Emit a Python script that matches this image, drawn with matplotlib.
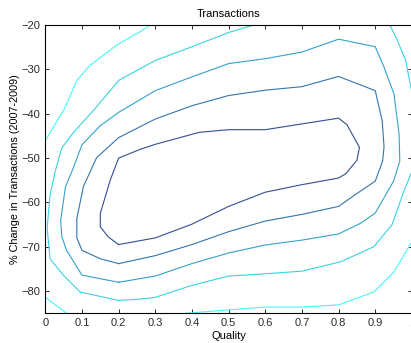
import matplotlib
matplotlib.use("Agg")
import matplotlib.pyplot as plt

plt.rcParams['font.family'] = ['Liberation Sans', 'DejaVu Sans']

# contour levels, traced as (quality, % change) vertices, inner to outer
c1_x = [0.2, 0.3, 0.4, 0.5, 0.6, 0.7, 0.8, 0.82, 0.85, 0.857, 0.823, 0.8, 0.7, 0.6, 0.5, 0.42, 0.3, 0.26, 0.2, 0.177, 0.15, 0.15, 0.172, 0.2]
c1_y = [-69.5, -68.0, -64.9, -60.9, -57.7, -56.0, -54.5, -53.5, -50.5, -47.6, -42.5, -41.0, -42.3, -43.6, -43.6, -44.2, -46.9, -48.0, -50.0, -55.0, -62.5, -65.5, -67.8, -69.5]

c2_x = [0.2, 0.3, 0.4, 0.5, 0.6, 0.7, 0.8, 0.85, 0.9, 0.92, 0.924, 0.919, 0.9, 0.8, 0.7, 0.6, 0.5, 0.4, 0.3, 0.2, 0.14, 0.104, 0.086, 0.086, 0.1, 0.15, 0.2]
c2_y = [-73.8, -72.0, -69.5, -66.6, -64.2, -62.7, -60.9, -58.0, -55.2, -50.7, -47.5, -41.6, -34.8, -31.6, -33.9, -34.7, -35.9, -38.2, -41.2, -45.4, -49.9, -56.4, -63.6, -68.0, -70.8, -72.7, -73.8]

c3_x = [0.2, 0.3, 0.4, 0.5, 0.6, 0.7, 0.8, 0.86, 0.9, 0.95, 0.967, 0.965, 0.951, 0.924, 0.9, 0.8, 0.7, 0.6, 0.5, 0.4, 0.3, 0.2, 0.15, 0.1, 0.075, 0.055, 0.042, 0.045, 0.058, 0.1, 0.15, 0.2]
c3_y = [-78.0, -76.6, -73.8, -71.4, -69.6, -68.5, -67.1, -64.7, -62.4, -55.2, -50.7, -44.6, -35.5, -29.5, -24.9, -23.2, -26.1, -27.6, -28.7, -31.7, -34.8, -39.7, -42.7, -47.0, -52.5, -56.5, -64.0, -67.7, -70.8, -76.4, -77.2, -78.0]

c4a_x = [0.568, 0.5, 0.4, 0.3, 0.2, 0.177, 0.131, 0.077, 0.045, 0.027, 0.013, 0.005, 0.013, 0.049, 0.095, 0.2, 0.259, 0.3, 0.4, 0.5, 0.6, 0.7, 0.805, 0.896, 0.946, 0.978, 1.0]
c4a_y = [-20.0, -21.7, -24.9, -28.0, -32.5, -34.8, -39.3, -44.2, -47.7, -53.0, -58.3, -65.8, -72.7, -76.4, -80.2, -82.1, -81.8, -81.4, -78.7, -76.6, -76.1, -75.5, -73.4, -70.0, -65.0, -57.5, -53.0]
c4b_x = [0.94, 0.96, 0.983, 1.0]
c4b_y = [-20.0, -23.4, -28.0, -35.2]

c5a_x = [0.0, 0.054, 0.086, 0.122, 0.195, 0.259, 0.286]
c5a_y = [-46.1, -38.6, -32.5, -29.1, -24.5, -21.5, -20.0]
c5b_x = [0.0, 0.058]
c5b_y = [-81.4, -85.0]
c5c_x = [0.382, 0.505, 0.6, 0.7, 0.8, 0.896, 0.951, 0.978, 1.0]
c5c_y = [-85.0, -84.2, -83.6, -83.6, -83.1, -80.2, -75.7, -71.9, -68.9]

colors = ['#32508f', '#3574ac', '#32a2ca', '#38d2e2', '#48f7f7']

xticks = [0, 0.1, 0.2, 0.3, 0.4, 0.5, 0.6, 0.7, 0.8, 0.9, 1]
xticklabels = ['0', '0.1', '0.2', '0.3', '0.4', '0.5', '0.6', '0.7', '0.8', '0.9', '1']
yticks = [-80, -70, -60, -50, -40, -30, -20]

fig = plt.figure(figsize=(4.11, 3.43), dpi=100)
ax = fig.add_axes([45.3 / 411, 29.7 / 343, 366.6 / 411, 288.3 / 343])

segments = [
    (c1_x, c1_y, 0), (c2_x, c2_y, 1), (c3_x, c3_y, 2),
    (c4a_x, c4a_y, 3), (c4b_x, c4b_y, 3),
    (c5a_x, c5a_y, 4), (c5b_x, c5b_y, 4), (c5c_x, c5c_y, 4),
]
for xs, ys, k in segments:
    ax.plot(xs, ys, color=colors[k], linewidth=0.8)

ax.set_xlim(0, 1)
ax.set_ylim(-85, -20)
ax.set_xticks(xticks)
ax.set_xticklabels(xticklabels)
ax.set_yticks(yticks)
ax.tick_params(direction='in', length=3, width=0.7, top=True, right=True,
               labelsize=8, pad=3.5, colors='#2a2a2a')
for s in ax.spines.values():
    s.set_linewidth(0.8)

ax.set_title('Transactions', fontsize=8, pad=6)
ax.set_xlabel('Quality', fontsize=8, labelpad=2)
ax.set_ylabel('% Change in Transactions (2007-2009)', fontsize=7.8, labelpad=1)

fig.savefig('out.png', dpi=100)
